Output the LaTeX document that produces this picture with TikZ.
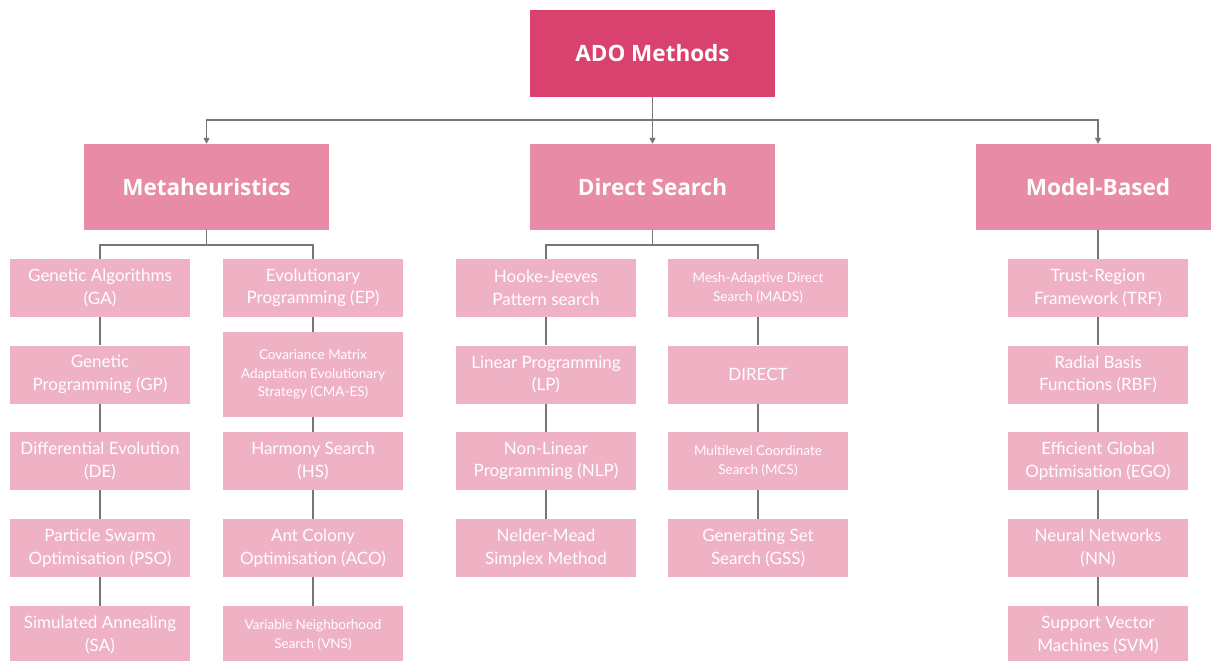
\documentclass[tikz,border=0pt]{standalone}
\usepackage{fontspec}
\setmainfont{Lato}
\newfontfamily\titlefont{Open Sans}
\usetikzlibrary{arrows.meta}
\definecolor{adoc}{RGB}{217,66,111}
\definecolor{midc}{RGB}{232,139,166}
\definecolor{leafc}{RGB}{239,177,196}
\definecolor{linec}{RGB}{118,118,118}
\begin{document}
\begin{tikzpicture}[x=1pt,y=-1pt,
  topbox/.style={fill=adoc,draw=none,minimum width=245pt,minimum height=87pt,text=white,font=\titlefont\fontsize{22.5}{26}\selectfont\bfseries,inner sep=0pt},
  midbox/.style={fill=midc,draw=none,minimum width=245pt,minimum height=86pt,text=white,font=\titlefont\fontsize{22.5}{26}\selectfont\bfseries,inner sep=0pt},
  leaf/.style={fill=leafc,draw=none,minimum width=180pt,minimum height=58pt,text=white,font=\fontsize{17}{22.5}\selectfont,align=center,inner sep=0pt},
  small/.style={font=\fontsize{13.5}{18.5}\selectfont},
  conn/.style={draw=linec,line width=1.6pt},
  arr/.style={conn,-{Triangle[length=6pt,width=6pt]}}]
\useasboundingbox (0,0) rectangle (1211,661);
\clip (0,0) rectangle (1211,661);
\fill[white] (0,0) rectangle (1211,661);
% top level
\node[topbox] (ado) at (652.5,53.5) {ADO Methods};
\node[midbox] (meta) at (206.5,187) {Metaheuristics};
\node[midbox] (ds) at (652.5,187) {Direct Search};
\node[midbox] (mb) at (1098,187) {Model-Based};
% column A
\node[leaf] (ga) at (100,288) {Genetic Algorithms\\(GA)};
\node[leaf] (gp) at (100,374.5) {Genetic\\Programming (GP)};
\node[leaf] (de) at (100,461) {Differential Evolution\\(DE)};
\node[leaf] (pso) at (100,548) {Particle Swarm\\Optimisation (PSO)};
\node[leaf] (sa) at (100,635) {Simulated Annealing\\(SA)};
% column B
\node[leaf] (ep) at (313,288) {Evolutionary\\Programming (EP)};
\node[leaf,small,minimum height=85pt] (cma) at (313,374.5) {Covariance Matrix\\Adaptation Evolutionary\\Strategy (CMA-ES)};
\node[leaf] (hs) at (313,461) {Harmony Search\\(HS)};
\node[leaf] (aco) at (313,548) {Ant Colony\\Optimisation (ACO)};
\node[leaf,small] (vns) at (313,635) {Variable Neighborhood\\Search (VNS)};
% column C
\node[leaf] (hj) at (546,288) {Hooke-Jeeves\\Pattern search};
\node[leaf] (lp) at (546,374.5) {Linear Programming\\(LP)};
\node[leaf] (nlp) at (546,461) {Non-Linear\\Programming (NLP)};
\node[leaf] (nm) at (546,548) {Nelder-Mead\\Simplex Method};
% column D
\node[leaf,small] (mads) at (758,288) {Mesh-Adaptive Direct\\Search (MADS)};
\node[leaf] (direct) at (758,374.5) {DIRECT};
\node[leaf,small] (mcs) at (758,461) {Multilevel Coordinate\\Search (MCS)};
\node[leaf] (gss) at (758,548) {Generating Set\\Search (GSS)};
% column E
\node[leaf] (trf) at (1098,288) {Trust-Region\\Framework (TRF)};
\node[leaf] (rbf) at (1098,374.5) {Radial Basis\\Functions (RBF)};
\node[leaf] (ego) at (1098,461) {Efficient Global\\Optimisation (EGO)};
\node[leaf] (nn) at (1098,548) {Neural Networks\\(NN)};
\node[leaf] (svm) at (1098,635) {Support Vector\\Machines (SVM)};
% top connectors
\coordinate (bus) at (652.5,120);
\draw[conn] (ado.south) -- (bus);
\draw[arr] (bus) -| (meta.north);
\draw[arr] (bus) -- (ds.north);
\draw[arr] (bus) -| (mb.north);
% second level
\draw[conn] (meta.south) -- ++(0,15) -| (ga.north);
\draw[conn] (meta.south) -- ++(0,15) -| (ep.north);
\draw[conn] (ds.south) -- ++(0,15) -| (hj.north);
\draw[conn] (ds.south) -- ++(0,15) -| (mads.north);
\draw[conn] (mb.south) -- (trf.north);
% chains
\foreach \a/\b in {ga/gp,gp/de,de/pso,pso/sa,ep/cma,cma/hs,hs/aco,aco/vns,hj/lp,lp/nlp,nlp/nm,mads/direct,direct/mcs,mcs/gss,trf/rbf,rbf/ego,ego/nn,nn/svm}
  \draw[conn] (\a.south) -- (\b.north);
\end{tikzpicture}
\end{document}
